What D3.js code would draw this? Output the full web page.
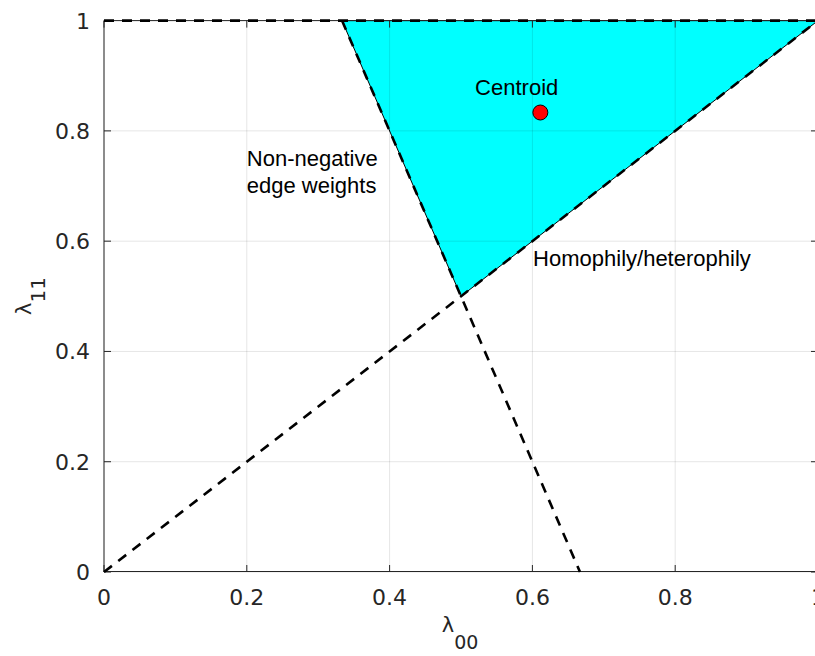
<!DOCTYPE html>
<html>
<head>
<meta charset="utf-8">
<script src="https://cdn.jsdelivr.net/npm/d3@7"></script>
<style>
  body { margin: 0; background: #fff; }
  svg { display: block; }
</style>
</head>
<body>
<div id="chart"></div>
<script>
  // feasible region corners (lambda00, lambda11)
  const regionPts = [[1 / 3, 1], [1, 1], [0.5, 0.5]];
  // dashed constraint lines
  const boundaryLines = [
    [[0, 1], [1, 1]],
    [[0, 0], [1, 1]],
    [[1 / 3, 1], [2 / 3, 0]]
  ];
  const xTicks = [0, 0.2, 0.4, 0.6, 0.8, 1];
  const yTicks = [0, 0.2, 0.4, 0.6, 0.8, 1];
  const tickText = ["0", "0.2", "0.4", "0.6", "0.8", "1"];
  // text annotations in data units
  const notes = [
    { text: "Centroid", x: 0.578, y: 0.865, anchor: "middle" },
    { text: "Non-negative", x: 0.2, y: 0.736, anchor: "start" },
    { text: "edge weights", x: 0.2, y: 0.687, anchor: "start" },
    { text: "Homophily/heterophily", x: 0.601, y: 0.555, anchor: "start" }
  ];

  const width = 815, height = 656;
  const x = d3.scaleLinear().domain([0, 1]).range([104, 818]);
  const y = d3.scaleLinear().domain([0, 1]).range([572, 20.6]);

  const svg = d3.select("#chart").append("svg")
    .attr("width", width)
    .attr("height", height);

  // cyan region
  svg.append("polygon")
    .attr("points", regionPts.map(p => x(p[0]) + "," + y(p[1])).join(" "))
    .attr("fill", "#00ffff")
    .attr("stroke", "#000")
    .attr("stroke-width", 1);

  // grid, drawn over the patch with low alpha
  const grid = svg.append("g").attr("stroke", "#000").attr("stroke-opacity", 0.1);
  grid.selectAll(".gx").data(xTicks).enter().append("line")
    .attr("x1", d => x(d)).attr("x2", d => x(d))
    .attr("y1", y(0)).attr("y2", y(1));
  grid.selectAll(".gy").data(yTicks).enter().append("line")
    .attr("x1", x(0)).attr("x2", x(1))
    .attr("y1", d => y(d)).attr("y2", d => y(d));

  // axes box
  const axisColor = "#262626";
  const tickLen = 7;
  const box = svg.append("g").attr("stroke", axisColor).attr("stroke-width", 1).attr("fill", "none");
  box.append("line").attr("x1", x(0)).attr("x2", x(1)).attr("y1", y(0) - 0.5).attr("y2", y(0) - 0.5);
  box.append("line").attr("x1", x(0)).attr("x2", x(1)).attr("y1", y(1)).attr("y2", y(1));
  box.append("line").attr("x1", x(0)).attr("x2", x(0)).attr("y1", y(0)).attr("y2", y(1));
  box.append("line").attr("x1", x(1)).attr("x2", x(1)).attr("y1", y(0)).attr("y2", y(1));

  xTicks.forEach(t => {
    box.append("line").attr("x1", x(t)).attr("x2", x(t)).attr("y1", y(0)).attr("y2", y(0) - tickLen);
    box.append("line").attr("x1", x(t)).attr("x2", x(t)).attr("y1", y(1)).attr("y2", y(1) + tickLen);
  });
  yTicks.forEach(t => {
    box.append("line").attr("x1", x(0)).attr("x2", x(0) + tickLen).attr("y1", y(t)).attr("y2", y(t));
    box.append("line").attr("x1", x(1)).attr("x2", x(1) - tickLen).attr("y1", y(t)).attr("y2", y(t));
  });

  // tick labels
  const tickFont = "'DejaVu Sans', sans-serif";
  svg.append("g").selectAll("text").data(xTicks).enter().append("text")
    .attr("x", d => x(d))
    .attr("y", y(0) + 33)
    .attr("text-anchor", "middle")
    .style("font-family", tickFont)
    .style("font-size", "22px")
    .style("fill", axisColor)
    .text((d, i) => tickText[i]);
  svg.append("g").selectAll("text").data(yTicks).enter().append("text")
    .attr("x", x(0) - 14)
    .attr("y", d => y(d) + 8)
    .attr("text-anchor", "end")
    .style("font-family", tickFont)
    .style("font-size", "22px")
    .style("fill", axisColor)
    .text((d, i) => tickText[i]);

  // dashed lines
  svg.append("g").selectAll("line").data(boundaryLines).enter().append("line")
    .attr("x1", d => x(d[0][0])).attr("y1", d => y(d[0][1]))
    .attr("x2", d => x(d[1][0])).attr("y2", d => y(d[1][1]))
    .attr("stroke", "#000")
    .attr("stroke-width", 2.6)
    .attr("stroke-dasharray", "10,8");

  // centroid marker
  const cx = d3.mean(regionPts, p => p[0]);
  const cy = d3.mean(regionPts, p => p[1]);
  svg.append("circle")
    .attr("cx", x(cx)).attr("cy", y(cy))
    .attr("r", 7.5)
    .attr("fill", "#ff0000")
    .attr("stroke", "#000")
    .attr("stroke-width", 1);

  // annotations
  svg.append("g").selectAll("text").data(notes).enter().append("text")
    .attr("x", d => x(d.x))
    .attr("y", d => y(d.y))
    .attr("text-anchor", d => d.anchor)
    .style("font-family", "'Liberation Sans', Arial, sans-serif")
    .style("font-size", "22px")
    .style("fill", "#000")
    .text(d => d.text);

  // axis labels
  const xl = svg.append("text")
    .attr("x", 460).attr("y", 632)
    .attr("text-anchor", "middle")
    .style("font-family", tickFont)
    .style("fill", axisColor);
  xl.append("tspan").style("font-size", "21px").text("λ");
  xl.append("tspan").attr("dy", 17).style("font-size", "19px").text("00");

  const yl = svg.append("text")
    .attr("transform", "translate(31,296) rotate(-90)")
    .attr("text-anchor", "middle")
    .style("font-family", tickFont)
    .style("fill", axisColor);
  yl.append("tspan").style("font-size", "21px").text("λ");
  yl.append("tspan").attr("dy", 14).style("font-size", "20px").text("11");
</script>
</body>
</html>
